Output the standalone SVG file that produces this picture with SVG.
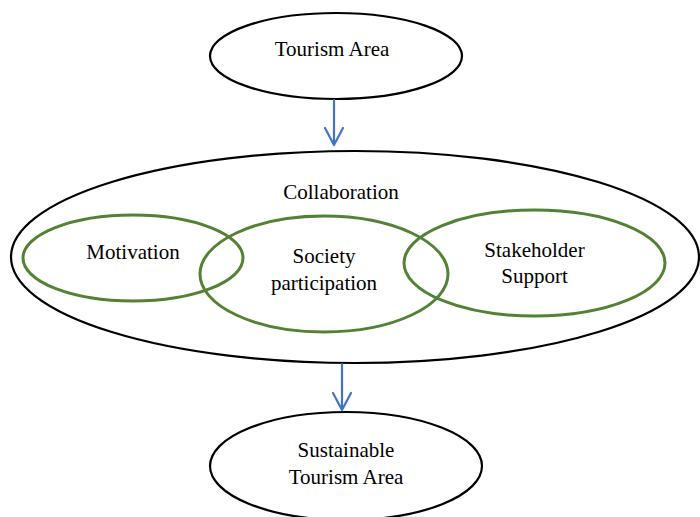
<svg xmlns="http://www.w3.org/2000/svg" width="700" height="517" viewBox="0 0 700 517">
  <style>
    .node { fill: #ffffff; stroke: #000000; stroke-width: 2.2; }
    .ring { fill: none; stroke: #548235; stroke-width: 3; }
    .label { font-family: "Liberation Serif", "Times New Roman", serif; font-size: 21px; fill: #000000; text-anchor: middle; }
    .flow { fill: none; stroke: #4472C4; stroke-width: 2.2; stroke-linecap: round; stroke-linejoin: round; }
  </style>

  <rect width="700" height="517" fill="#ffffff"/>

  <g id="collaboration">
    <ellipse class="node" cx="355" cy="257" rx="344" ry="106"/>
    <text class="label" x="341" y="199">Collaboration</text>
  </g>

  <g id="tourism-area">
    <ellipse class="node" cx="336" cy="56" rx="126" ry="43"/>
    <text class="label" x="332" y="56">Tourism Area</text>
  </g>

  <g id="sustainable-tourism-area">
    <ellipse class="node" cx="346" cy="466" rx="136" ry="54"/>
    <text class="label" x="346" y="457">Sustainable</text>
    <text class="label" x="346" y="484">Tourism Area</text>
  </g>

  <g id="motivation">
    <ellipse class="ring" cx="133" cy="258" rx="110" ry="43"/>
    <text class="label" x="133" y="259">Motivation</text>
  </g>

  <g id="society-participation">
    <ellipse class="ring" cx="324" cy="274" rx="124" ry="58"/>
    <text class="label" x="324" y="263">Society</text>
    <text class="label" x="324" y="290">participation</text>
  </g>

  <g id="stakeholder-support">
    <ellipse class="ring" cx="534.5" cy="263" rx="130.5" ry="53"/>
    <text class="label" x="534.5" y="257">Stakeholder</text>
    <text class="label" x="534.5" y="283">Support</text>
  </g>

  <g id="connectors">
    <path class="flow" d="M334 100 V145 M325 128 L334 145 L343 128"/>
    <path class="flow" d="M342 364 V410 M333 393 L342 410 L351 393"/>
  </g>
</svg>
